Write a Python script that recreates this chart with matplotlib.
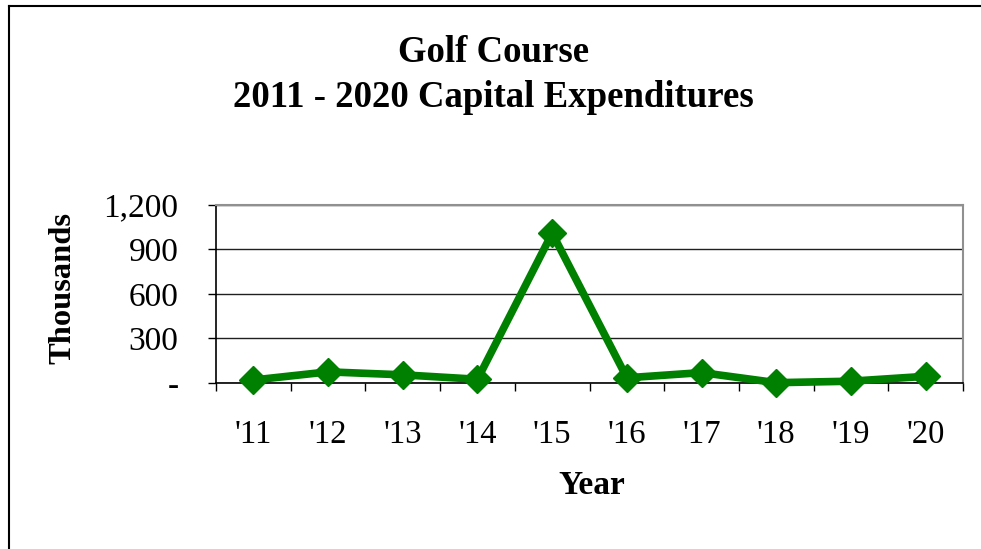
import matplotlib.pyplot as plt
from matplotlib.lines import Line2D

# values (thousands)
years = ["'11", "'12", "'13", "'14", "'15", "'16", "'17", "'18", "'19", "'20"]
spend = [20, 75, 55, 25, 1010, 35, 70, 2, 12, 45]
y_ticks = [0, 300, 600, 900, 1200]
y_labels = ['-', '300', '600', '900', '1,200']

plt.rcParams['font.family'] = ['Liberation Serif', 'DejaVu Serif']

fig = plt.figure(figsize=(9.81, 5.49), dpi=100)
ax = fig.add_axes([0.2202, 0.3024, 0.7615, 0.3242])

x = list(range(len(years)))
ax.plot(x, spend, color='#008000', linewidth=5.5, marker='D', markersize=14,
        zorder=3, clip_on=False)

ax.set_xlim(-0.5, len(years) - 0.5)
ax.set_ylim(0, 1200)
ax.set_xticks(x)
ax.set_xticklabels(years, fontsize=23.5)
ax.set_xticks([i - 0.5 for i in range(len(years) + 1)], minor=True)
ax.tick_params(axis='x', which='major', length=0, pad=26)
ax.tick_params(axis='x', which='minor', length=6, width=1, color='black')
ax.set_yticks(y_ticks)
ax.set_yticklabels(y_labels, fontsize=24)
ax.tick_params(axis='y', length=6, width=1, pad=21)

ax.grid(axis='y', color='#202020', linewidth=1)
ax.set_axisbelow(True)
for side in ['top', 'right']:
    ax.spines[side].set_color('#909090')
    ax.spines[side].set_linewidth(1.5)
for side in ['left', 'bottom']:
    ax.spines[side].set_color('black')
    ax.spines[side].set_linewidth(1.2)

ax.set_ylabel('Thousands', fontsize=23.4, fontweight='bold')
ax.yaxis.set_label_coords(-0.186, 0.535)
ax.set_xlabel('Year', fontsize=24, fontweight='bold')
ax.xaxis.set_label_coords(0.503, -0.488)

fig.text(0.503, 0.905, 'Golf Course', ha='center', va='center',
         fontsize=26.5, fontweight='bold')
fig.text(0.503, 0.823, '2011 - 2020 Capital Expenditures', ha='center',
         va='center', fontsize=26.5, fontweight='bold')

# chart frame (only top and left edges are visible in the crop)
fig.add_artist(Line2D([8.5 / 981, 1], [1 - 5.5 / 549, 1 - 5.5 / 549],
                      color='black', linewidth=1.5))
fig.add_artist(Line2D([8.5 / 981, 8.5 / 981], [0, 1 - 5.5 / 549],
                      color='black', linewidth=1.5))

fig.savefig('out.png', dpi=100)
